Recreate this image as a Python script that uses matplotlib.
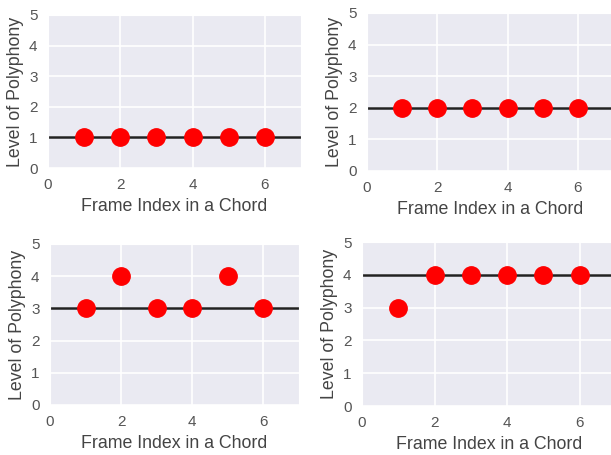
import numpy as np
import matplotlib
matplotlib.use("Agg")
import matplotlib.pyplot as plt
import seaborn as sns

sns.set_style("darkgrid")
plt.rcParams['font.family'] = ['Liberation Sans', 'DejaVu Sans']

frames = [1, 2, 3, 4, 5, 6]
poly_1 = [1, 1, 1, 1, 1, 1]
poly_2 = [2, 2, 2, 2, 2, 2]
poly_3 = [3, 4, 3, 3, 4, 3]
poly_4 = [3, 4, 4, 4, 4, 4]
chord_levels = [1, 2, 3, 4]

W, H = 611, 455
fig = plt.figure(figsize=(W / 100, H / 100), dpi=100)

# axes boxes in pixels: left, right, top, bottom
boxes = [(48, 301, 15, 168), (367, 613, 13, 171),
         (50, 299, 244, 405), (362, 616, 242, 406)]

for (l, r, t, b), ys, level in zip(boxes, [poly_1, poly_2, poly_3, poly_4], chord_levels):
    ax = fig.add_axes([l / W, 1 - b / H, (r - l) / W, (b - t) / H])
    ax.axhline(level, color='#222222', lw=1.8, zorder=2)
    ax.plot(frames, ys, 'o', color='red', markersize=12.5, zorder=3)
    ax.set_xlim(0, 7)
    ax.set_ylim(0, 5)
    ax.set_xticks([0, 2, 4, 6])
    ax.set_yticks([0, 1, 2, 3, 4, 5])
    ax.grid(color='white', lw=1.2)
    ax.tick_params(labelsize=11, colors='#555555', pad=4)
    ax.set_xlabel('Frame Index in a Chord', fontsize=12.8, color='#444444')
    ax.set_ylabel('Level of Polyphony', fontsize=12.8, color='#444444')

fig.savefig('out.png', dpi=100)
